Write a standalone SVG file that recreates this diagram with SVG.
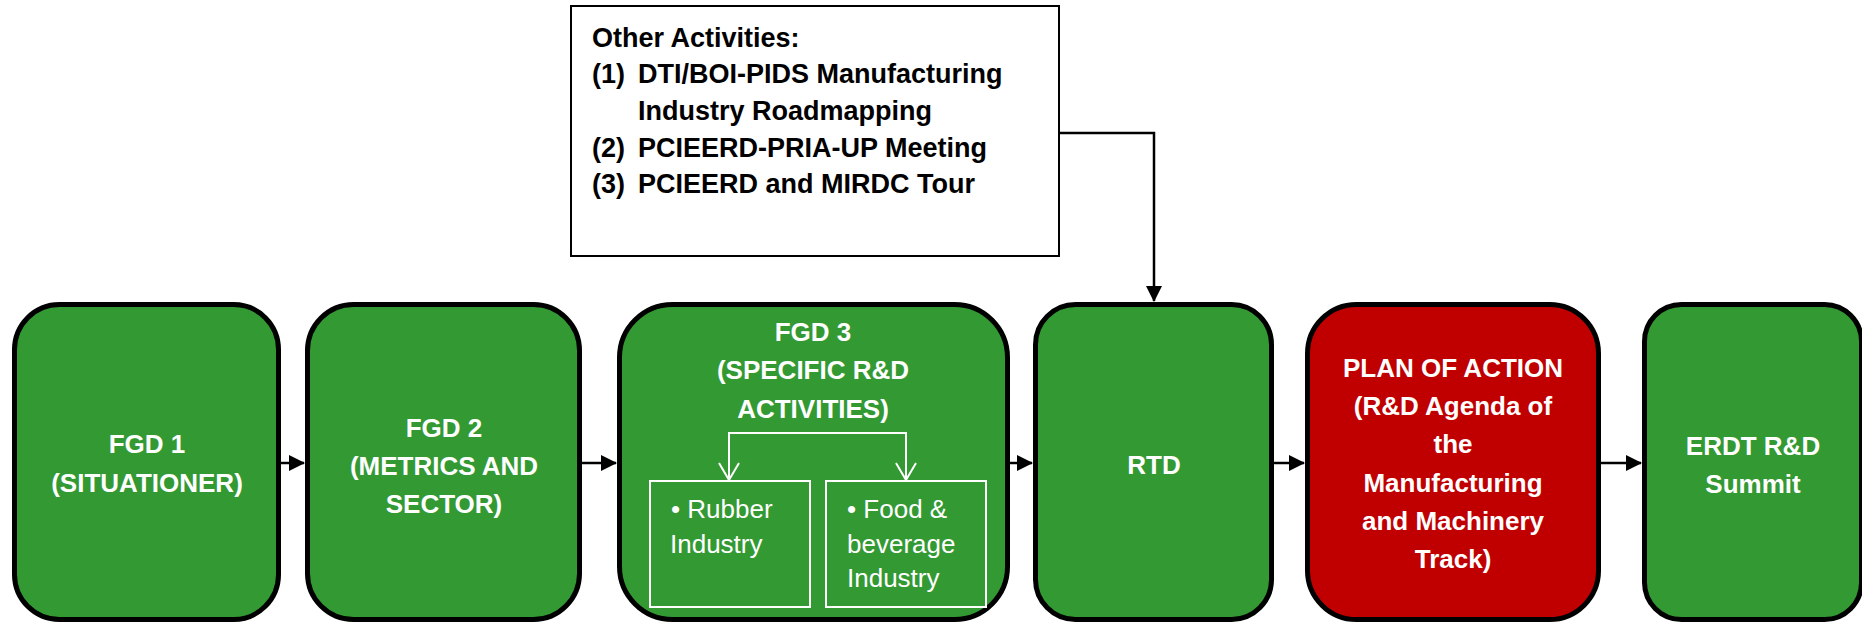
<svg xmlns="http://www.w3.org/2000/svg" width="1862" height="625" viewBox="0 0 1862 625">
<style>
.node{stroke:#000;stroke-width:5}
.g{fill:#339933}
.r{fill:#C00000}
.t{font-family:"Liberation Sans",Arial,sans-serif;font-weight:bold;font-size:26px;fill:#fff;text-anchor:middle}
.it{font-family:"Liberation Sans",Arial,sans-serif;font-size:26px;fill:#fff}
.ot{font-family:"Liberation Sans",Arial,sans-serif;font-weight:bold;font-size:27px;fill:#000}
.conn{fill:none;stroke:#000;stroke-width:2.5}
.wl{fill:none;stroke:#fff;stroke-width:2}
</style>
<defs>
<marker id="ah" viewBox="0 0 16 16" refX="15" refY="8" markerUnits="userSpaceOnUse" markerWidth="16" markerHeight="16" orient="auto">
<path d="M0,0 L16,8 L0,16 Z" fill="#000"/>
</marker>
<marker id="wo" viewBox="0 0 20 22" refX="18" refY="11" markerUnits="userSpaceOnUse" markerWidth="20" markerHeight="22" orient="auto-start-reverse">
<path d="M1,1 L18,11 L1,21" fill="none" stroke="#fff" stroke-width="2"/>
</marker>
</defs>

<g id="other-activities">
<rect x="571" y="6" width="488" height="250" fill="#fff" stroke="#000" stroke-width="2"/>
<text class="ot" x="592" y="47">Other Activities:</text>
<text class="ot" x="592" y="83">(1)</text>
<text class="ot" x="638" y="83">DTI/BOI-PIDS Manufacturing</text>
<text class="ot" x="638" y="120">Industry Roadmapping</text>
<text class="ot" x="592" y="157">(2)</text>
<text class="ot" x="638" y="157">PCIEERD-PRIA-UP Meeting</text>
<text class="ot" x="592" y="193">(3)</text>
<text class="ot" x="638" y="193">PCIEERD and MIRDC Tour</text>
</g>

<g id="fgd1">
<rect class="node g" x="14.5" y="304.5" width="264" height="315" rx="45" ry="45"/>
<text class="t" x="147" y="453">FGD 1</text>
<text class="t" x="147" y="492">(SITUATIONER)</text>
</g>

<g id="fgd2">
<rect class="node g" x="307.5" y="304.5" width="272" height="315" rx="46" ry="46"/>
<text class="t" x="444" y="437">FGD 2</text>
<text class="t" x="444" y="475">(METRICS AND</text>
<text class="t" x="444" y="513">SECTOR)</text>
</g>

<g id="fgd3">
<rect class="node g" x="619.5" y="304.5" width="388" height="315" rx="53" ry="53"/>
<text class="t" x="813" y="341">FGD 3</text>
<text class="t" x="813" y="379">(SPECIFIC R&amp;D</text>
<text class="t" x="813" y="418">ACTIVITIES)</text>
<path class="wl" d="M729,480 V433 H906 V480" marker-start="url(#wo)" marker-end="url(#wo)"/>
<g id="rubber">
<rect class="wl" x="650" y="481" width="160" height="126"/>
<text class="it" x="671" y="518">• Rubber</text>
<text class="it" x="670" y="553">Industry</text>
</g>
<g id="food">
<rect class="wl" x="826" y="481" width="160" height="126"/>
<text class="it" x="847" y="518">• Food &amp;</text>
<text class="it" x="847" y="553">beverage</text>
<text class="it" x="847" y="587">Industry</text>
</g>
</g>

<g id="rtd">
<rect class="node g" x="1035.5" y="304.5" width="236" height="315" rx="40" ry="40"/>
<text class="t" x="1154" y="474">RTD</text>
</g>

<g id="plan">
<rect class="node r" x="1307.5" y="304.5" width="291" height="315" rx="49" ry="49"/>
<text class="t" x="1453" y="377">PLAN OF ACTION</text>
<text class="t" x="1453" y="415">(R&amp;D Agenda of</text>
<text class="t" x="1453" y="453">the</text>
<text class="t" x="1453" y="492">Manufacturing</text>
<text class="t" x="1453" y="530">and Machinery</text>
<text class="t" x="1453" y="568">Track)</text>
</g>

<g id="erdt">
<rect class="node g" x="1644.5" y="304.5" width="217" height="315" rx="37" ry="37"/>
<text class="t" x="1753" y="455">ERDT R&amp;D</text>
<text class="t" x="1753" y="493">Summit</text>
</g>

<g id="connectors">
<path class="conn" d="M1060,133 H1154 V301" marker-end="url(#ah)"/>
<path class="conn" d="M281,463 H304" marker-end="url(#ah)"/>
<path class="conn" d="M582,463 H616" marker-end="url(#ah)"/>
<path class="conn" d="M1010,463 H1032" marker-end="url(#ah)"/>
<path class="conn" d="M1274,463 H1304" marker-end="url(#ah)"/>
<path class="conn" d="M1601,463 H1641" marker-end="url(#ah)"/>
</g>
</svg>
